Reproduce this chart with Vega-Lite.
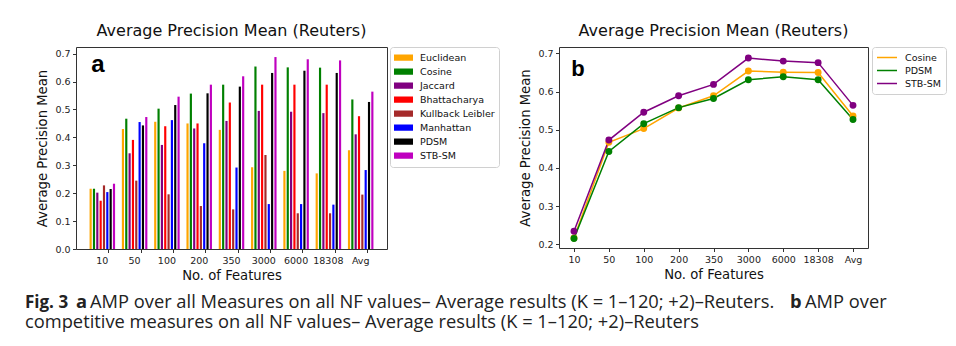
{
  "$schema": "https://vega.github.io/schema/vega-lite/v6.json",
  "background": "white",
  "padding": {"left": 25, "top": 22, "right": 0, "bottom": 0},
  "datasets": {
    "amp": [
      {"nf": "10", "measure": "Euclidean", "amp": 0.216}, {"nf": "10", "measure": "Cosine", "amp": 0.216}, {"nf": "10", "measure": "Jaccard", "amp": 0.202}, {"nf": "10", "measure": "Bhattacharya", "amp": 0.173}, {"nf": "10", "measure": "Kullback Leibler", "amp": 0.228}, {"nf": "10", "measure": "Manhattan", "amp": 0.204}, {"nf": "10", "measure": "PDSM", "amp": 0.215}, {"nf": "10", "measure": "STB-SM", "amp": 0.234},
      {"nf": "50", "measure": "Euclidean", "amp": 0.430}, {"nf": "50", "measure": "Cosine", "amp": 0.467}, {"nf": "50", "measure": "Jaccard", "amp": 0.343}, {"nf": "50", "measure": "Bhattacharya", "amp": 0.391}, {"nf": "50", "measure": "Kullback Leibler", "amp": 0.245}, {"nf": "50", "measure": "Manhattan", "amp": 0.455}, {"nf": "50", "measure": "PDSM", "amp": 0.443}, {"nf": "50", "measure": "STB-SM", "amp": 0.473},
      {"nf": "100", "measure": "Euclidean", "amp": 0.456}, {"nf": "100", "measure": "Cosine", "amp": 0.503}, {"nf": "100", "measure": "Jaccard", "amp": 0.373}, {"nf": "100", "measure": "Bhattacharya", "amp": 0.440}, {"nf": "100", "measure": "Kullback Leibler", "amp": 0.196}, {"nf": "100", "measure": "Manhattan", "amp": 0.462}, {"nf": "100", "measure": "PDSM", "amp": 0.516}, {"nf": "100", "measure": "STB-SM", "amp": 0.546},
      {"nf": "200", "measure": "Euclidean", "amp": 0.450}, {"nf": "200", "measure": "Cosine", "amp": 0.557}, {"nf": "200", "measure": "Jaccard", "amp": 0.432}, {"nf": "200", "measure": "Bhattacharya", "amp": 0.450}, {"nf": "200", "measure": "Kullback Leibler", "amp": 0.154}, {"nf": "200", "measure": "Manhattan", "amp": 0.379}, {"nf": "200", "measure": "PDSM", "amp": 0.558}, {"nf": "200", "measure": "STB-SM", "amp": 0.589},
      {"nf": "350", "measure": "Euclidean", "amp": 0.427}, {"nf": "350", "measure": "Cosine", "amp": 0.589}, {"nf": "350", "measure": "Jaccard", "amp": 0.459}, {"nf": "350", "measure": "Bhattacharya", "amp": 0.525}, {"nf": "350", "measure": "Kullback Leibler", "amp": 0.142}, {"nf": "350", "measure": "Manhattan", "amp": 0.292}, {"nf": "350", "measure": "PDSM", "amp": 0.582}, {"nf": "350", "measure": "STB-SM", "amp": 0.619},
      {"nf": "3000", "measure": "Euclidean", "amp": 0.293}, {"nf": "3000", "measure": "Cosine", "amp": 0.654}, {"nf": "3000", "measure": "Jaccard", "amp": 0.495}, {"nf": "3000", "measure": "Bhattacharya", "amp": 0.589}, {"nf": "3000", "measure": "Kullback Leibler", "amp": 0.337}, {"nf": "3000", "measure": "Manhattan", "amp": 0.161}, {"nf": "3000", "measure": "PDSM", "amp": 0.631}, {"nf": "3000", "measure": "STB-SM", "amp": 0.688},
      {"nf": "6000", "measure": "Euclidean", "amp": 0.280}, {"nf": "6000", "measure": "Cosine", "amp": 0.651}, {"nf": "6000", "measure": "Jaccard", "amp": 0.492}, {"nf": "6000", "measure": "Bhattacharya", "amp": 0.589}, {"nf": "6000", "measure": "Kullback Leibler", "amp": 0.128}, {"nf": "6000", "measure": "Manhattan", "amp": 0.161}, {"nf": "6000", "measure": "PDSM", "amp": 0.639}, {"nf": "6000", "measure": "STB-SM", "amp": 0.680},
      {"nf": "18308", "measure": "Euclidean", "amp": 0.271}, {"nf": "18308", "measure": "Cosine", "amp": 0.650}, {"nf": "18308", "measure": "Jaccard", "amp": 0.487}, {"nf": "18308", "measure": "Bhattacharya", "amp": 0.589}, {"nf": "18308", "measure": "Kullback Leibler", "amp": 0.128}, {"nf": "18308", "measure": "Manhattan", "amp": 0.159}, {"nf": "18308", "measure": "PDSM", "amp": 0.631}, {"nf": "18308", "measure": "STB-SM", "amp": 0.676},
      {"nf": "Avg", "measure": "Euclidean", "amp": 0.354}, {"nf": "Avg", "measure": "Cosine", "amp": 0.536}, {"nf": "Avg", "measure": "Jaccard", "amp": 0.411}, {"nf": "Avg", "measure": "Bhattacharya", "amp": 0.476}, {"nf": "Avg", "measure": "Kullback Leibler", "amp": 0.195}, {"nf": "Avg", "measure": "Manhattan", "amp": 0.283}, {"nf": "Avg", "measure": "PDSM", "amp": 0.527}, {"nf": "Avg", "measure": "STB-SM", "amp": 0.564}
    ]
  },
  "config": {
    "font": "DejaVu Sans",
    "view": {"stroke": "#333333", "strokeWidth": 1},
    "axis": {"domain": false, "grid": false, "tickColor": "#333333", "tickSize": 3.5, "labelColor": "#222222", "labelFontSize": 9.5, "labelFont": "DejaVu Sans", "labelPadding": 2.5, "labelOverlap": false, "titleFont": "DejaVu Sans", "titleFontSize": 13.2, "titleFontWeight": "normal", "titleColor": "#111111", "titlePadding": 5},
    "title": {"font": "DejaVu Sans", "fontSize": 16, "fontWeight": "normal", "color": "#111111", "offset": 8},
    "legend": {"labelFont": "DejaVu Sans", "labelFontSize": 9.5, "labelColor": "#111111", "strokeColor": "#d0d0d0", "padding": 4, "cornerRadius": 3, "offset": 3, "labelOffset": 7, "rowPadding": 0}
  },
  "vconcat": [
    {
      "hconcat": [
        {
          "width": 311,
          "height": 202,
          "title": "Average Precision Mean (Reuters)",
          "layer": [
            {
              "data": {"name": "amp"},
              "mark": {"type": "bar"},
              "encoding": {
                "x": {"field": "nf", "type": "nominal", "sort": ["10", "50", "100", "200", "350", "3000", "6000", "18308", "Avg"], "scale": {"paddingInner": 0.21, "paddingOuter": 0.42}, "axis": {"title": "No. of Features", "labelAngle": 0, "bandPosition": 0.76}},
                "xOffset": {"field": "measure", "type": "nominal", "sort": ["Euclidean", "Cosine", "Jaccard", "Bhattacharya", "Kullback Leibler", "Manhattan", "PDSM", "STB-SM"], "scale": {"paddingInner": 0.35, "paddingOuter": 0}},
                "y": {"field": "amp", "type": "quantitative", "scale": {"domain": [0, 0.724], "nice": false}, "axis": {"title": "Average Precision Mean", "values": [0, 0.1, 0.2, 0.3, 0.4, 0.5, 0.6, 0.7], "format": ".1f"}},
                "color": {"field": "measure", "type": "nominal", "scale": {"domain": ["Euclidean", "Cosine", "Jaccard", "Bhattacharya", "Kullback Leibler", "Manhattan", "PDSM", "STB-SM"], "range": ["#FFA500", "#008000", "#800080", "#FF0000", "#A52A2A", "#0000FF", "#000000", "#BF00BF"]}, "legend": {"title": null, "symbolType": "M-1,-0.33H1V0.33H-1Z", "symbolSize": 361, "symbolStrokeWidth": 0, "clipHeight": 13.4}}
              }
            },
            {
              "data": {"values": [{"label": "a"}]},
              "mark": {"type": "text", "font": "Liberation Sans", "fontWeight": "bold", "fontSize": 24, "align": "center", "baseline": "alphabetic", "color": "#000000"},
              "encoding": {
                "x": {"datum": "10", "bandPosition": 0.33, "axis": {"title": "No. of Features", "labelAngle": 0, "bandPosition": 0.76}},
                "y": {"datum": 0.635, "type": "quantitative", "axis": {"title": "Average Precision Mean", "values": [0, 0.1, 0.2, 0.3, 0.4, 0.5, 0.6, 0.7], "format": ".1f"}},
                "text": {"field": "label"}
              }
            }
          ]
        },
        {
          "width": 309,
          "height": 201,
          "title": "Average Precision Mean (Reuters)",
          "layer": [
            {
              "data": {"name": "amp"},
              "transform": [{"filter": {"field": "measure", "oneOf": ["Cosine", "PDSM", "STB-SM"]}}],
              "mark": {"type": "line", "strokeWidth": 1.5, "point": {"filled": true, "size": 48}},
              "encoding": {
                "x": {"field": "nf", "type": "ordinal", "sort": ["10", "50", "100", "200", "350", "3000", "6000", "18308", "Avg"], "scale": {"type": "point", "padding": 0.43}, "axis": {"title": "No. of Features", "labelAngle": 0}},
                "y": {"field": "amp", "type": "quantitative", "scale": {"domain": [0.19, 0.717], "nice": false, "zero": false}, "axis": {"title": "Average Precision Mean", "values": [0.2, 0.3, 0.4, 0.5, 0.6, 0.7], "format": ".1f"}},
                "color": {"field": "measure", "type": "nominal", "scale": {"domain": ["Cosine", "PDSM", "STB-SM"], "range": ["#FFA500", "#008000", "#800080"]}, "legend": {"title": null, "symbolType": "stroke", "symbolSize": 400, "symbolStrokeWidth": 1.5, "offset": 4, "clipHeight": 13, "labelOffset": 7}}
              }
            },
            {
              "data": {"values": [{"label": "b"}]},
              "mark": {"type": "text", "font": "Liberation Sans", "fontWeight": "bold", "fontSize": 22, "align": "center", "dx": 4, "baseline": "alphabetic", "color": "#000000"},
              "encoding": {
                "x": {"datum": "10", "axis": {"title": "No. of Features", "labelAngle": 0}},
                "y": {"datum": 0.641, "type": "quantitative", "axis": {"title": "Average Precision Mean", "values": [0.2, 0.3, 0.4, 0.5, 0.6, 0.7], "format": ".1f"}},
                "text": {"field": "label"}
              }
            }
          ]
        }
      ],
      "spacing": 18,
      "resolve": {"scale": {"color": "independent"}, "legend": {"color": "independent"}}
    },
    {
      "width": 900,
      "height": 40,
      "view": {"stroke": null},
      "encoding": {
        "x": {"datum": 0, "type": "quantitative", "scale": {"domain": [0, 1]}, "axis": null},
        "y": {"field": "line", "type": "ordinal", "scale": {"type": "point", "domain": ["1", "2"], "padding": 0.5}, "axis": null},
        "text": {"field": "text"}
      },
      "layer": [
        {"data": {"values": [{"line": "1", "text": "Fig. 3"}]}, "mark": {"type": "text", "font": "Open Sans", "fontSize": 17, "fontWeight": "bold", "align": "left", "baseline": "alphabetic", "dx": -51, "color": "#222222"}},
        {"data": {"values": [{"line": "1", "text": "a"}]}, "mark": {"type": "text", "font": "Open Sans", "fontSize": 18.3, "fontWeight": "bold", "align": "left", "baseline": "alphabetic", "dx": 0, "color": "#222222"}},
        {"data": {"values": [{"line": "1", "text": "AMP over all Measures on all NF values– Average results (K = 1–120; +2)–Reuters."}]}, "mark": {"type": "text", "font": "Open Sans", "fontSize": 18.3, "align": "left", "baseline": "alphabetic", "dx": 14, "color": "#222222"}},
        {"data": {"values": [{"line": "1", "text": "b"}]}, "mark": {"type": "text", "font": "Open Sans", "fontSize": 18.3, "fontWeight": "bold", "align": "left", "baseline": "alphabetic", "dx": 714, "color": "#222222"}},
        {"data": {"values": [{"line": "1", "text": "AMP over"}]}, "mark": {"type": "text", "font": "Open Sans", "fontSize": 18.3, "align": "left", "baseline": "alphabetic", "dx": 729, "color": "#222222"}},
        {"data": {"values": [{"line": "2", "text": "competitive measures on all NF values– Average results (K = 1–120; +2)–Reuters"}]}, "mark": {"type": "text", "font": "Open Sans", "fontSize": 18.3, "align": "left", "baseline": "alphabetic", "dx": -51, "color": "#222222"}}
      ]
    }
  ],
  "spacing": 10
}
